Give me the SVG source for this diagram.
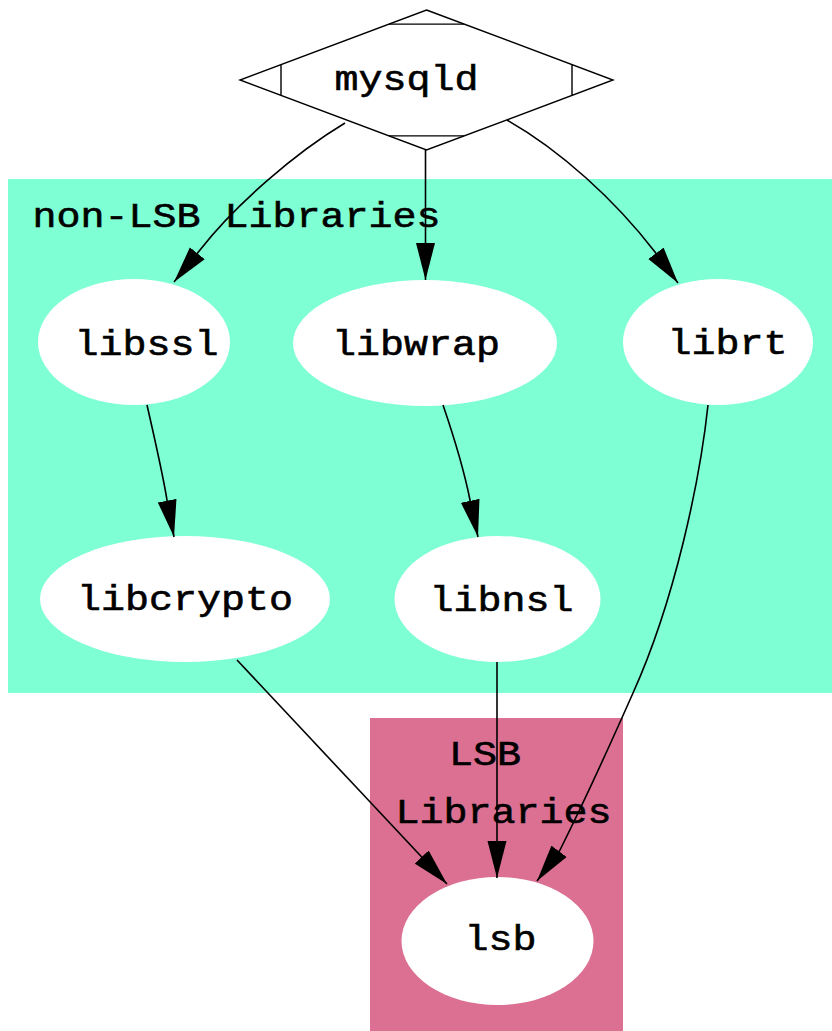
<svg xmlns="http://www.w3.org/2000/svg" width="832" height="1031" viewBox="0 0 832 1031">
  <style>
    .lbl { font-family: "Liberation Mono", "DejaVu Sans Mono", monospace; font-size: 35px; fill: #000; stroke: #000; stroke-width: 0.6; text-anchor: middle; }
    .node-fill { fill: #ffffff; stroke: none; }
    .edge { fill: none; stroke: #000; stroke-width: 1.6; marker-end: url(#arrow); }
    .outline { fill: #ffffff; stroke: #000; stroke-width: 1.4; }
    .cut { fill: none; stroke: #000; stroke-width: 1.4; }
  </style>
  <defs>
    <marker id="arrow" markerUnits="userSpaceOnUse" markerWidth="37" markerHeight="20" refX="37" refY="10" orient="auto">
      <path d="M0,0.5 L37,10 L0,19.5 Z" fill="#000"/>
    </marker>
  </defs>

  <rect width="832" height="1031" fill="#ffffff"/>

  <!-- clusters -->
  <g id="cluster_nonlsb">
    <rect x="8" y="179" width="824" height="514" fill="#7fffd4"/>
    <text class="lbl" x="236.5" y="227" textLength="408" lengthAdjust="spacingAndGlyphs">non-LSB Libraries</text>
  </g>
  <g id="cluster_lsb">
    <rect x="370" y="718" width="253" height="313" fill="#db7093"/>
    <text class="lbl" x="485" y="765" textLength="72" lengthAdjust="spacingAndGlyphs">LSB</text>
    <text class="lbl" x="503.5" y="823" textLength="216" lengthAdjust="spacingAndGlyphs">Libraries</text>
  </g>

  <!-- nodes -->
  <g id="mysqld">
    <polygon class="outline" points="426.5,10 613,80 426.5,150 240,80"/>
    <path class="cut" d="M389,24.1 H464 M389,135.9 H464 M281,64.6 V95.4 M572,64.6 V95.4"/>
    <text class="lbl" x="406.5" y="90" textLength="144" lengthAdjust="spacingAndGlyphs">mysqld</text>
  </g>
  <g id="libssl">
    <ellipse class="node-fill" cx="134" cy="342" rx="96" ry="63"/>
    <text class="lbl" x="146.5" y="355" textLength="144" lengthAdjust="spacingAndGlyphs">libssl</text>
  </g>
  <g id="libwrap">
    <ellipse class="node-fill" cx="425" cy="343" rx="132" ry="63"/>
    <text class="lbl" x="416" y="355" textLength="168" lengthAdjust="spacingAndGlyphs">libwrap</text>
  </g>
  <g id="librt">
    <ellipse class="node-fill" cx="718" cy="342" rx="95" ry="63"/>
    <text class="lbl" x="727.5" y="354" textLength="120" lengthAdjust="spacingAndGlyphs">librt</text>
  </g>
  <g id="libcrypto">
    <ellipse class="node-fill" cx="185" cy="599" rx="145" ry="63"/>
    <text class="lbl" x="185" y="610" textLength="216" lengthAdjust="spacingAndGlyphs">libcrypto</text>
  </g>
  <g id="libnsl">
    <ellipse class="node-fill" cx="497.5" cy="599" rx="103" ry="63"/>
    <text class="lbl" x="501.5" y="611" textLength="144" lengthAdjust="spacingAndGlyphs">libnsl</text>
  </g>
  <g id="lsb">
    <ellipse class="node-fill" cx="497.5" cy="941" rx="96" ry="64"/>
    <text class="lbl" x="500.5" y="950" textLength="72" lengthAdjust="spacingAndGlyphs">lsb</text>
  </g>

  <!-- connectors -->
  <g id="edges">
    <path class="edge" d="M345,123 C295,153 235,205 200,250 L174,282"/>
    <path class="edge" d="M425.5,150 L425.5,280"/>
    <path class="edge" d="M507,120 C560,150 615,200 655,252 L678,283"/>
    <path class="edge" d="M147,405 C155,440 163,475 167,500 L174,537"/>
    <path class="edge" d="M443,405 C455,440 465,475 470,500 L478,537"/>
    <path class="edge" d="M237,660 L447,884"/>
    <path class="edge" d="M497,662 L497,878"/>
    <path class="edge" d="M708,405 C700,480 675,600 633,693 C610,745 580,810 560,850 L537,881"/>
  </g>
</svg>
